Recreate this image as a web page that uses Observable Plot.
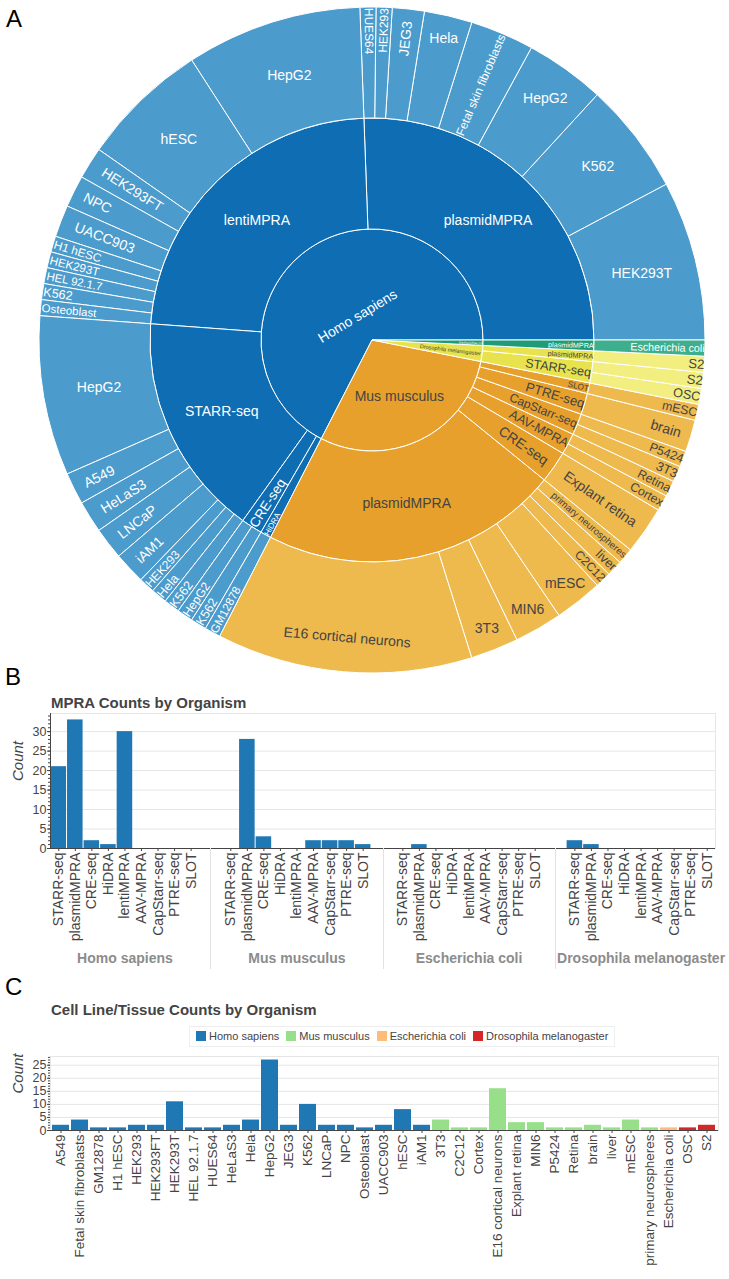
<!DOCTYPE html>
<html><head><meta charset="utf-8">
<script src="https://cdn.jsdelivr.net/npm/d3@7"></script>
<script src="https://cdn.jsdelivr.net/npm/@observablehq/plot@0.6"></script>
<style>
body{margin:0;background:#fff;font-family:"Liberation Sans",Arial,sans-serif;}
#page{position:relative;width:729px;height:1279px;overflow:hidden;background:#fff;}
.abs{position:absolute;}
.panel{font-size:24px;line-height:24px;color:#000;}
.title{font-weight:bold;font-size:15px;line-height:17px;color:#444;}
.legend{display:flex;gap:7px;align-items:center;font-size:11px;line-height:13px;color:#444;border:1px solid #eee;padding:3px 6px;white-space:nowrap;}
.legend span.sw{display:inline-block;width:10px;height:10px;margin-right:3px;vertical-align:-1px;}
</style></head>
<body><div id="page">
<div class="abs panel" style="left:6px;top:7px">A</div>
<div id="sun" class="abs" style="left:0;top:0"></div>
<div class="abs panel" style="left:5px;top:665px">B</div>
<div class="abs title" style="left:51px;top:694px">MPRA Counts by Organism</div>
<div id="pb" class="abs" style="left:0;top:708px"></div>
<div class="abs panel" style="left:5px;top:975px">C</div>
<div class="abs title" style="left:51px;top:1001px">Cell Line/Tissue Counts by Organism</div>
<div id="leg" class="abs legend" style="left:189px;top:1026px"></div>
<div id="pc" class="abs" style="left:0;top:1051px"></div>
</div>
<script>
// ---------------- DATA ----------------
// Panel A: sunburst leaves (organism > MPRA type > cell line / tissue)
const sbOrganism = [
  "Homo sapiens","Homo sapiens","Homo sapiens","Homo sapiens","Homo sapiens","Homo sapiens","Homo sapiens","Homo sapiens",
  "Homo sapiens","Homo sapiens","Homo sapiens","Homo sapiens","Homo sapiens","Homo sapiens","Homo sapiens","Homo sapiens","Homo sapiens","Homo sapiens",
  "Homo sapiens","Homo sapiens","Homo sapiens","Homo sapiens","Homo sapiens","Homo sapiens","Homo sapiens","Homo sapiens",
  "Homo sapiens","Homo sapiens",
  "Homo sapiens",
  "Mus musculus","Mus musculus","Mus musculus","Mus musculus","Mus musculus","Mus musculus","Mus musculus",
  "Mus musculus",
  "Mus musculus","Mus musculus",
  "Mus musculus","Mus musculus",
  "Mus musculus",
  "Mus musculus",
  "Drosophila melanogaster","Drosophila melanogaster",
  "Drosophila melanogaster",
  "Escherichia coli"
];
const sbMethod = [
  "plasmidMPRA","plasmidMPRA","plasmidMPRA","plasmidMPRA","plasmidMPRA","plasmidMPRA","plasmidMPRA","plasmidMPRA",
  "lentiMPRA","lentiMPRA","lentiMPRA","lentiMPRA","lentiMPRA","lentiMPRA","lentiMPRA","lentiMPRA","lentiMPRA","lentiMPRA",
  "STARR-seq","STARR-seq","STARR-seq","STARR-seq","STARR-seq","STARR-seq","STARR-seq","STARR-seq",
  "CRE-seq","CRE-seq",
  "HiDRA",
  "plasmidMPRA","plasmidMPRA","plasmidMPRA","plasmidMPRA","plasmidMPRA","plasmidMPRA","plasmidMPRA",
  "CRE-seq",
  "AAV-MPRA","AAV-MPRA",
  "CapStarr-seq","CapStarr-seq",
  "PTRE-seq",
  "SLOT",
  "STARR-seq","STARR-seq",
  "plasmidMPRA",
  "plasmidMPRA"
];
const sbCell = [
  "HEK293T","K562","HepG2","Fetal skin fibroblasts","Hela","JEG3","HEK293","HUES64",
  "HepG2","hESC","HEK293FT","NPC","UACC903","H1 hESC","HEK293T","HEL 92.1.7","K562","Osteoblast",
  "HepG2","A549","HeLaS3","LNCaP","iAM1","HEK293","Hela","K562",
  "HepG2","K562",
  "GM12878",
  "E16 cortical neurons","3T3","MIN6","mESC","C2C12","liver","primary neurospheres",
  "Explant retina",
  "Cortex","Retina",
  "3T3","P5424",
  "brain",
  "mESC",
  "OSC","S2",
  "S2",
  "Escherichia coli"
];
const sbCount = [
  10,7,5,4,3,2,1,1,
  11,8,2,2,2,1,1,1,1,1,
  10,2,2,2,2,1,1,1,
  1,1,
  1,
  16,3,3,3,1,1,1,
  3,
  1,1,
  1,1,
  2,
  1,
  1,1,
  1,
  1
];

// Panel B: MPRA counts by organism
const mpraOrganisms = ["Homo sapiens","Mus musculus","Escherichia coli","Drosophila melanogaster"];
const mpraTypes = ["STARR-seq","plasmidMPRA","CRE-seq","HiDRA","lentiMPRA","AAV-MPRA","CapStarr-seq","PTRE-seq","SLOT"];
const mpraHomo  = [21,33,2,1,30,0,0,0,0];
const mpraMus   = [0,28,3,0,0,2,2,2,1];
const mpraEcoli = [0,1,0,0,0,0,0,0,0];
const mpraDros  = [2,1,0,0,0,0,0,0,0];
const mpraTicks = [0,5,10,15,20,25,30];

// Panel C: cell line / tissue counts
const cellLines = ["A549","Fetal skin fibroblasts","GM12878","H1 hESC","HEK293","HEK293FT","HEK293T","HEL 92.1.7","HUES64","HeLaS3","Hela","HepG2","JEG3","K562","LNCaP","NPC","Osteoblast","UACC903","hESC","iAM1",
  "3T3","C2C12","Cortex","E16 cortical neurons","Explant retina","MIN6","P5424","Retina","brain","liver","mESC","primary neurospheres",
  "Escherichia coli","OSC","S2"];
const cellCounts = [2,4,1,1,2,2,11,1,1,2,4,27,2,10,2,2,1,2,8,2,
  4,1,1,16,3,3,1,1,2,1,4,1,
  1,1,2];
const cellOrganism = [
  ...Array(20).fill("Homo sapiens"),
  ...Array(12).fill("Mus musculus"),
  "Escherichia coli",
  "Drosophila melanogaster","Drosophila melanogaster"];
const cellTicks = [0,5,10,15,20,25];
const legendOrganisms = ["Homo sapiens","Mus musculus","Escherichia coli","Drosophila melanogaster"];

// ---------------- STYLE ----------------
const FONT = '"Liberation Sans", Arial, sans-serif';
const innerColor = {"Homo sapiens":"#0f6db4","Mus musculus":"#e7a02b","Drosophila melanogaster":"#e8e34c","Escherichia coli":"#1e9c78"};
const leafColor  = {"Homo sapiens":"#4b9bcc","Mus musculus":"#eeb94d","Drosophila melanogaster":"#f2ee80","Escherichia coli":"#3daf8d"};
const textColor  = {"Homo sapiens":"#fff","Mus musculus":"#444","Drosophila melanogaster":"#444","Escherichia coli":"#fff"};
const barColors  = {"Homo sapiens":"#1f77b4","Mus musculus":"#98df8a","Escherichia coli":"#ffbb78","Drosophila melanogaster":"#d62728"};
const labelOrientation = new Map([["Homo sapiens|1","t"]]);

// ---------------- PANEL A: SUNBURST ----------------
const R = 333, CX = 372, CY = 340, SBW = 729, SBH = 680, F = 14, TEXTPAD = 3;
const ringPx = R / 3;
const leaves = sbCount.map((v, i) => ({org: sbOrganism[i], method: sbMethod[i], cell: sbCell[i], value: v}));
const root = d3.hierarchy([null, d3.group(leaves, d => d.org, d => d.method)],
    ([, v]) => v instanceof Map ? Array.from(v) : Array.isArray(v) ? v.map(l => [l.cell, l]) : null)
  .sum(([, v]) => (v && !(v instanceof Map) && !Array.isArray(v)) ? v.value : 0)
  .sort((a, b) => b.value - a.value);
d3.partition().size([2 * Math.PI, 4])(root);

const nodes = root.descendants().filter(d => d.depth > 0).map(d => ({
  name: d.data[0], depth: d.depth, t0: d.x0, t1: d.x1,
  r0: (d.depth - 1) * ringPx, r1: d.depth * ringPx,
  org: d.ancestors().find(a => a.depth === 1).data[0], leaf: !d.children
}));

const ctx = document.createElement("canvas").getContext("2d");
ctx.font = `${F}px "Liberation Sans"`;

// inside-text fitting (horizontal / radial / tangential), sunburst-style
function maxHalfSize(a, halfAngle, r, ring) {
  const q = a + 1 / (2 * Math.tan(halfAngle));
  return r * Math.min(1 / (Math.sqrt(q * q + 0.5) + q), ring / (Math.sqrt(a * a + ring / 2) + a));
}
const rCenterOf = (a, b) => Math.cos(b) - a * b;
const norm = x => ((((x + 90) % 180) + 180) % 180) - 90;

const sbLabels = [];
for (const n of nodes) {
  const w = ctx.measureText(n.name).width, h = F * 1.15;
  const span = n.t1 - n.t0, half = 0.5 * Math.min(span, Math.PI), ring = 1 - n.r0 / n.r1;
  const tm = (n.t0 + n.t1) / 2, tdeg = tm * 180 / Math.PI;
  const rIns = Math.min(1 / (1 + 1 / Math.sin(half)), ring / 2);
  const opts = {
    h: {scale: 2 * rIns * n.r1 / Math.hypot(w, h), rc: 1 - rIns, rot: 0},
  };
  const rr = Math.max(0, n.r1 - 2 * TEXTPAD);
  { const a = w / h, s = maxHalfSize(a, half, rr, ring);
    opts.r = {scale: 2 * s / h, rc: rCenterOf(a, s / rr), rot: norm(-tdeg)}; }
  { const a = h / w, s = maxHalfSize(a, half, rr, ring);
    opts.t = {scale: 2 * s / w, rc: rCenterOf(a, s / rr), rot: norm(-(tdeg - 90))}; }
  let mode = labelOrientation.get(`${n.name}|${n.depth}`);
  if (!mode) {
    if (opts.h.scale >= 1) mode = "h";
    else mode = ["h", "r", "t"].reduce((m, k) => opts[k].scale > opts[m].scale ? k : m, "h");
  }
  const o = opts[mode];
  const rc = Math.max(0, o.rc) * n.r1;
  sbLabels.push({
    name: n.name, x: rc * Math.cos(tm) / R, y: rc * Math.sin(tm) / R,
    rot: o.rot, fs: F * Math.min(1, o.scale), color: textColor[n.org]
  });
}

const arcMark = (index, scales) => {
  const g = d3.create("svg:g");
  const cx = scales.x(0), cy = scales.y(0), k = scales.x(1) - scales.x(0);
  const arc = d3.arc();
  g.selectAll("path").data(nodes).join("path")
    .attr("transform", `translate(${cx},${cy})`)
    .attr("d", d => arc({innerRadius: d.r0 / R * k, outerRadius: d.r1 / R * k,
                         startAngle: Math.PI / 2 - d.t0, endAngle: Math.PI / 2 - d.t1}))
    .attr("fill", d => d.leaf ? leafColor[d.org] : innerColor[d.org])
    .attr("stroke", "#fff").attr("stroke-width", 1);
  return g.node();
};

const sun = Plot.plot({
  width: SBW, height: SBH, margin: 0,
  style: {fontFamily: FONT, background: "transparent"},
  x: {domain: [-CX / R, (SBW - CX) / R], axis: null},
  y: {domain: [-(SBH - CY) / R, CY / R], axis: null},
  marks: [
    arcMark,
    Plot.text(sbLabels, {x: "x", y: "y", text: "name", rotate: d => d.rot, fontSize: d => d.fs,
      fill: d => d.color, textAnchor: "middle", lineAnchor: "middle"})
  ]
});
document.getElementById("sun").appendChild(sun);

// ---------------- PANEL B ----------------
const gap = 1.4;
const mpraByOrg = [mpraHomo, mpraMus, mpraEcoli, mpraDros];
const bRows = [];
mpraOrganisms.forEach((org, gi) => mpraTypes.forEach((m, mi) =>
  bRows.push({org, method: m, count: mpraByOrg[gi][mi], pos: gi * (mpraTypes.length + gap) + mi + 0.5})));
const bXmax = mpraOrganisms.length * mpraTypes.length + (mpraOrganisms.length - 1) * gap;
const posToMethod = new Map(bRows.map(d => [d.pos, d.method]));
const bYmax = d3.max(bRows, d => d.count) * 1.05;

const sepMark = (index, scales, values, dims) => {
  const g = d3.create("svg:g");
  const yTop = dims.height - dims.marginBottom, yBot = dims.height - 3;
  for (let j = 1; j < mpraOrganisms.length; j++) {
    const xs = Math.round(scales.x(j * (mpraTypes.length + gap) - gap / 2)) + 0.5;
    g.append("line").attr("x1", xs).attr("x2", xs).attr("y1", yTop).attr("y2", yBot)
      .attr("stroke", "#e2e2e2");
  }
  return g.node();
};

const pb = Plot.plot({
  width: 729, height: 264, marginLeft: 50, marginRight: 14, marginTop: 5, marginBottom: 124,
  style: {fontFamily: FONT, color: "#444", background: "transparent"},
  x: {domain: [0, bXmax], axis: null},
  y: {domain: [0, bYmax], axis: null},
  marks: [
    Plot.gridY({ticks: mpraTicks.slice(1), stroke: "#e6e6e6", strokeOpacity: 1}),
    Plot.frame({stroke: "#e6e6e6"}),
    Plot.rectY(bRows.filter(d => d.count > 0), {x1: d => d.pos - 0.47, x2: d => d.pos + 0.47, y: "count", fill: barColors["Homo sapiens"]}),
    Plot.ruleY([0], {stroke: "#444"}),
    Plot.ruleX([0], {stroke: "#444"}),
    Plot.axisY({ticks: d3.range(0, Math.floor(bYmax) + 1), tickSize: 2, tickFormat: () => "", label: null, stroke: "#444"}),
    Plot.axisY({ticks: mpraTicks, tickSize: 3, tickPadding: 1, fontSize: 12.5, label: null, stroke: "#444"}),
    Plot.axisX({ticks: bRows.map(d => d.pos), tickFormat: p => posToMethod.get(p), tickRotate: -90,
      tickSize: 3, tickPadding: 1, fontSize: 14, label: null, stroke: "#444"}),
    Plot.text(["Count"], {frameAnchor: "left", dx: -32, rotate: -90, fontStyle: "italic", fontSize: 15, fill: "#444", text: d => d}),
    Plot.text(mpraOrganisms, {x: (d, i) => i * (mpraTypes.length + gap) + mpraTypes.length / 2, frameAnchor: "bottom",
      dy: 110, text: d => d, fontWeight: "bold", fontSize: 14, fill: "#8c8c8c", lineAnchor: "middle"}),
    sepMark
  ]
});
document.getElementById("pb").appendChild(pb);

// ---------------- PANEL C ----------------
const leg = document.getElementById("leg");
legendOrganisms.forEach(o => {
  const item = document.createElement("span");
  item.innerHTML = `<span class="sw" style="background:${barColors[o]}"></span>${o}`;
  leg.appendChild(item);
});

const cRows = cellLines.map((c, i) => ({cell: c, count: cellCounts[i], org: cellOrganism[i]}));
const cYmax = d3.max(cellCounts) * 1.05;
const pc = Plot.plot({
  width: 729, height: 228, marginLeft: 50, marginRight: 11, marginTop: 5, marginBottom: 149,
  style: {fontFamily: FONT, color: "#444", background: "transparent"},
  x: {domain: cellLines, padding: 0.08, axis: null},
  y: {domain: [0, cYmax], axis: null},
  color: {domain: legendOrganisms, range: legendOrganisms.map(o => barColors[o])},
  marks: [
    Plot.gridY({ticks: cellTicks.slice(1), stroke: "#e6e6e6", strokeOpacity: 1}),
    Plot.frame({stroke: "#e6e6e6"}),
    Plot.barY(cRows, {x: "cell", y: "count", fill: "org"}),
    Plot.ruleY([0], {stroke: "#444"}),
    Plot.axisY({ticks: d3.range(0, Math.floor(cYmax) + 1), tickSize: 2, tickFormat: () => "", label: null, stroke: "#444"}),
    Plot.axisY({ticks: cellTicks, tickSize: 3, tickPadding: 1, fontSize: 12.5, label: null, stroke: "#444"}),
    Plot.axisX({tickRotate: -90, tickSize: 3, tickPadding: 1, fontSize: 13.5, label: null, stroke: "#444"}),
    Plot.text(["Count"], {frameAnchor: "left", dx: -32, rotate: -90, fontStyle: "italic", fontSize: 15, fill: "#444", text: d => d})
  ]
});
document.getElementById("pc").appendChild(pc);
</script>
</body></html>
